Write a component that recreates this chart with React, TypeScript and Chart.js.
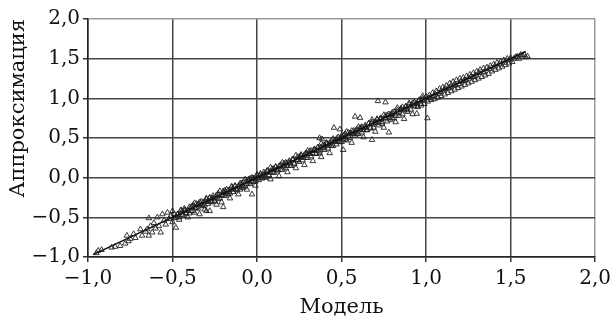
import React, { useEffect, useRef } from "react";
import { Chart, registerables } from "chart.js";

Chart.register(...registerables);

// Axis range / ticks
const axisMin = -1;
const axisMax = 2;
const tickStep = 0.5;

// Fitted line (y = x) end points
const fitLineX = [-0.97, 1.59];
const fitLineY = [-0.97, 1.59];

const segLow: [number, number][] = [
  [-0.95, -0.95], [-0.94, -0.92], [-0.92, -0.91], [-0.86, -0.88], [-0.84, -0.87],
  [-0.81, -0.86], [-0.78, -0.83], [-0.76, -0.8], [-0.77, -0.73], [-0.75, -0.77],
  [-0.73, -0.71], [-0.72, -0.76], [-0.69, -0.65], [-0.68, -0.73], [-0.66, -0.68],
  [-0.65, -0.65], [-0.64, -0.51], [-0.64, -0.73], [-0.63, -0.61], [-0.62, -0.69],
  [-0.61, -0.57], [-0.6, -0.64], [-0.59, -0.5], [-0.58, -0.61], [-0.57, -0.69],
  [-0.56, -0.46], [-0.55, -0.54], [-0.54, -0.59], [-0.53, -0.44], [-0.52, -0.52],
  [-0.51, -0.48], [-0.5, -0.42], [-0.48, -0.63], [-0.49, -0.51], [-0.5, -0.56],
  [-0.47, -0.47], [-0.46, -0.53],
];

const segMid: [number, number][] = [
  [-0.45, -0.41], [-0.44, -0.47], [-0.43, -0.39], [-0.42, -0.45], [-0.41, -0.5],
  [-0.4, -0.37], [-0.39, -0.42], [-0.38, -0.35], [-0.37, -0.44], [-0.36, -0.33],
  [-0.35, -0.39], [-0.34, -0.46], [-0.33, -0.3], [-0.32, -0.36], [-0.31, -0.4],
  [-0.3, -0.27], [-0.3, -0.42], [-0.29, -0.33], [-0.28, -0.25], [-0.28, -0.42],
  [-0.27, -0.31], [-0.26, -0.23], [-0.25, -0.29], [-0.24, -0.34], [-0.23, -0.2],
  [-0.22, -0.26], [-0.21, -0.31], [-0.2, -0.17], [-0.2, -0.37], [-0.19, -0.23],
  [-0.18, -0.15], [-0.17, -0.21], [-0.16, -0.26], [-0.15, -0.12], [-0.14, -0.18],
  [-0.13, -0.1], [-0.12, -0.16], [-0.11, -0.21], [-0.1, -0.07], [-0.09, -0.13],
  [-0.08, -0.05], [-0.07, -0.11], [-0.06, -0.15], [-0.05, -0.02], [-0.04, -0.08],
  [-0.03, -0.21], [-0.03, 0.0], [-0.02, -0.05], [-0.01, -0.1], [0.0, 0.03],
  [0.01, -0.03], [0.02, 0.05], [0.03, -0.01], [0.04, 0.07], [0.05, 0.01],
  [0.06, 0.09], [0.07, 0.03], [0.08, -0.02], [0.09, 0.11], [0.1, 0.06],
  [0.11, 0.13], [0.12, 0.08], [0.13, 0.02], [0.14, 0.16], [0.15, 0.1],
  [0.16, 0.18], [0.17, 0.12], [0.18, 0.07], [0.19, 0.21], [0.2, 0.15],
  [0.21, 0.23], [0.22, 0.17], [0.23, 0.12], [0.24, 0.26], [0.25, 0.2],
  [0.26, 0.28], [0.27, 0.22], [0.28, 0.16], [0.29, 0.31], [0.3, 0.25],
  [0.31, 0.33], [0.32, 0.27], [0.33, 0.21], [0.34, 0.36], [0.35, 0.3],
  [0.36, 0.38], [0.37, 0.31], [0.37, 0.5], [0.385, 0.485], [0.38, 0.26],
  [0.39, 0.41], [0.4, 0.35], [0.41, 0.43], [0.42, 0.37], [0.43, 0.31],
  [0.44, 0.46], [0.45, 0.4],
  [-0.445, -0.43], [-0.425, -0.41], [-0.405, -0.42], [-0.385, -0.37], [-0.365, -0.38],
  [-0.345, -0.33], [-0.325, -0.34], [-0.305, -0.3], [-0.285, -0.3], [-0.265, -0.26],
  [-0.245, -0.25], [-0.225, -0.22], [-0.205, -0.22], [-0.185, -0.18], [-0.165, -0.18],
  [-0.145, -0.14], [-0.125, -0.14], [-0.105, -0.1], [-0.085, -0.1], [-0.065, -0.05],
  [-0.045, -0.06], [-0.025, -0.01], [-0.005, -0.02], [0.015, 0.02], [0.035, 0.03],
  [0.055, 0.06], [0.075, 0.07], [0.095, 0.1], [0.115, 0.1], [0.135, 0.15],
  [0.155, 0.14], [0.175, 0.18], [0.195, 0.18], [0.215, 0.23], [0.235, 0.22],
  [0.255, 0.26], [0.275, 0.27], [0.295, 0.3], [0.315, 0.3], [0.335, 0.35],
  [0.355, 0.34], [0.375, 0.38], [0.395, 0.38], [0.415, 0.43], [0.435, 0.42],
];

const segDense: [number, number][] = [
  [-0.49, -0.46], [-0.48, -0.5], [-0.47, -0.46], [-0.46, -0.5], [-0.45, -0.41],
  [-0.44, -0.45], [-0.43, -0.41], [-0.42, -0.45], [-0.41, -0.41], [-0.4, -0.45],
  [-0.39, -0.37], [-0.38, -0.42], [-0.37, -0.32], [-0.36, -0.38], [-0.35, -0.34],
  [-0.34, -0.31], [-0.33, -0.35], [-0.32, -0.31], [-0.31, -0.35], [-0.3, -0.26],
  [-0.29, -0.3], [-0.28, -0.26], [-0.27, -0.3], [-0.26, -0.26], [-0.25, -0.3],
  [-0.24, -0.22], [-0.23, -0.27], [-0.22, -0.17], [-0.21, -0.23], [-0.2, -0.19],
  [-0.19, -0.16], [-0.18, -0.2], [-0.17, -0.16], [-0.16, -0.2], [-0.15, -0.11],
  [-0.14, -0.15], [-0.13, -0.11], [-0.12, -0.15], [-0.11, -0.11], [-0.1, -0.15],
  [-0.09, -0.07], [-0.08, -0.12], [-0.07, -0.02], [-0.06, -0.08], [-0.05, -0.04],
  [-0.04, -0.01], [-0.03, -0.05], [-0.02, -0.01], [-0.01, -0.05], [0.0, 0.04],
  [0.01, 0.0], [0.02, 0.04], [0.03, 0.0], [0.04, 0.04], [0.05, 0.0],
  [0.06, 0.08], [0.07, 0.03], [0.08, 0.13], [0.09, 0.07], [0.1, 0.11],
  [0.11, 0.14], [0.12, 0.1], [0.13, 0.14], [0.14, 0.1], [0.15, 0.19],
  [0.16, 0.15], [0.17, 0.19], [0.18, 0.15], [0.19, 0.19], [0.2, 0.15],
  [0.21, 0.23], [0.22, 0.18], [0.23, 0.28], [0.24, 0.22], [0.25, 0.26],
  [0.26, 0.29], [0.27, 0.25], [0.28, 0.29], [0.29, 0.25], [0.3, 0.34],
  [0.31, 0.3], [0.32, 0.34], [0.33, 0.3], [0.34, 0.34], [0.35, 0.3],
  [0.36, 0.38], [0.37, 0.33], [0.38, 0.43], [0.39, 0.37], [0.4, 0.41],
  [0.41, 0.44], [0.42, 0.4], [0.43, 0.44], [0.44, 0.4], [0.45, 0.49],
  [0.46, 0.45], [0.47, 0.49], [0.48, 0.45], [0.49, 0.49], [0.5, 0.45],
  [0.51, 0.53], [0.52, 0.48], [0.53, 0.58], [0.54, 0.52], [0.55, 0.56],
  [0.56, 0.59], [0.57, 0.55], [0.58, 0.59], [0.59, 0.55], [0.6, 0.64],
  [0.61, 0.6], [0.62, 0.64], [0.63, 0.6], [0.64, 0.64], [0.65, 0.6],
  [0.66, 0.68], [0.67, 0.63], [0.68, 0.73], [0.69, 0.67], [0.7, 0.71],
  [0.71, 0.74], [0.72, 0.7], [0.73, 0.74], [0.74, 0.7], [0.75, 0.79],
  [0.76, 0.75], [0.77, 0.79], [0.78, 0.75], [0.79, 0.79], [0.8, 0.75],
  [0.81, 0.83], [0.82, 0.78], [0.83, 0.88], [0.84, 0.82], [0.85, 0.86],
  [0.86, 0.89], [0.87, 0.85], [0.88, 0.89], [0.89, 0.85], [0.9, 0.94],
  [0.91, 0.9], [0.92, 0.94], [0.93, 0.9], [0.94, 0.94], [0.95, 0.9],
  [0.96, 0.98], [0.97, 0.93], [0.98, 1.03], [0.99, 0.97],
];

const segUpper: [number, number][] = [
  [0.455, 0.63], [0.49, 0.61], [0.46, 0.47], [0.47, 0.42], [0.48, 0.51],
  [0.49, 0.45], [0.5, 0.53], [0.51, 0.35], [0.51, 0.48], [0.52, 0.55],
  [0.53, 0.47], [0.54, 0.57], [0.55, 0.5], [0.56, 0.44], [0.57, 0.59],
  [0.58, 0.77], [0.58, 0.53], [0.59, 0.61], [0.6, 0.55], [0.61, 0.755],
  [0.61, 0.63], [0.62, 0.57], [0.63, 0.51], [0.64, 0.66], [0.65, 0.6],
  [0.66, 0.68], [0.67, 0.62], [0.68, 0.477], [0.68, 0.7], [0.69, 0.63],
  [0.7, 0.58], [0.71, 0.73], [0.715, 0.966], [0.72, 0.66], [0.73, 0.75],
  [0.74, 0.68], [0.75, 0.63], [0.76, 0.95], [0.76, 0.78], [0.77, 0.71],
  [0.78, 0.57], [0.78, 0.8], [0.79, 0.73], [0.8, 0.82], [0.81, 0.75],
  [0.82, 0.7], [0.83, 0.85], [0.84, 0.78], [0.85, 0.87], [0.86, 0.8],
  [0.87, 0.74], [0.88, 0.9], [0.89, 0.83], [0.9, 0.92], [0.91, 0.86],
  [0.92, 0.8], [0.93, 0.95], [0.945, 0.806], [0.95, 0.89], [0.96, 0.97],
  [0.97, 0.91], [0.98, 1.0], [0.99, 0.93], [1.008, 0.75],
  [0.465, 0.46], [0.495, 0.5], [0.525, 0.51], [0.555, 0.56], [0.585, 0.57],
  [0.615, 0.62], [0.645, 0.63], [0.675, 0.68], [0.705, 0.69], [0.735, 0.74],
  [0.765, 0.75], [0.795, 0.8], [0.825, 0.81], [0.855, 0.86], [0.885, 0.87],
  [0.915, 0.92], [0.945, 0.93], [0.975, 0.98],
];

const segHigh: [number, number][] = [
  [1.0, 1.02], [1.01, 0.96], [1.02, 1.04], [1.03, 0.98], [1.04, 1.07],
  [1.05, 0.99], [1.06, 1.09], [1.07, 1.01], [1.08, 1.12], [1.09, 1.03],
  [1.1, 1.14], [1.11, 1.05], [1.12, 1.16], [1.13, 1.07], [1.14, 1.19],
  [1.15, 1.09], [1.16, 1.21], [1.17, 1.11], [1.18, 1.23], [1.19, 1.13],
  [1.2, 1.25], [1.21, 1.15], [1.22, 1.26], [1.23, 1.17], [1.24, 1.28],
  [1.25, 1.19], [1.26, 1.3], [1.27, 1.21], [1.28, 1.32], [1.29, 1.23],
  [1.3, 1.34], [1.31, 1.25], [1.32, 1.36], [1.33, 1.27], [1.34, 1.38],
  [1.35, 1.29], [1.36, 1.39], [1.37, 1.31], [1.38, 1.41], [1.39, 1.34],
  [1.4, 1.43], [1.41, 1.36], [1.42, 1.45], [1.43, 1.38], [1.44, 1.46],
  [1.45, 1.4], [1.46, 1.48], [1.47, 1.42], [1.48, 1.5], [1.49, 1.44],
  [1.5, 1.51], [1.51, 1.46], [1.53, 1.52], [1.55, 1.5], [1.57, 1.54],
  [1.58, 1.55], [1.59, 1.52], [1.6, 1.53],
  [1.015, 1.0], [1.045, 1.03], [1.075, 1.06], [1.105, 1.1], [1.135, 1.13],
  [1.165, 1.16], [1.195, 1.18], [1.225, 1.22], [1.255, 1.25], [1.285, 1.27],
  [1.025, 1.01], [1.055, 1.05], [1.085, 1.08], [1.115, 1.12], [1.145, 1.14],
  [1.175, 1.17], [1.205, 1.21], [1.235, 1.23], [1.265, 1.27], [1.295, 1.29],
  [1.315, 1.32], [1.345, 1.33], [1.375, 1.37], [1.405, 1.4], [1.435, 1.43],
  [1.465, 1.45], [1.495, 1.48], [1.52, 1.5], [1.54, 1.53], [1.56, 1.55],
];

const FONT = "'DejaVu Serif', 'Liberation Serif', serif";

const fmt = (v: number) => {
  const s = Math.abs(v).toFixed(1).replace(".", ",");
  return v < -1e-9 ? "\u2212" + s : s;
};

export default function App() {
  const ref = useRef<HTMLCanvasElement | null>(null);

  useEffect(() => {
    if (!ref.current) return;
    const pts = [...segLow, ...segMid, ...segDense, ...segUpper, ...segHigh].map(([x, y]) => ({ x, y }));
    const line = fitLineX.map((x, i) => ({ x, y: fitLineY[i] }));
    const edgeColor = (v: number) => (Math.abs(v - axisMax) < 1e-9 ? "#9a9a9a" : "#444");

    const chart = new Chart(ref.current, {
      type: "scatter",
      data: {
        datasets: [
          {
            type: "line",
            data: line,
            borderColor: "#111",
            borderWidth: 1.5,
            pointRadius: 0,
            order: 0,
          } as any,
          {
            data: pts,
            pointStyle: "triangle",
            pointRadius: 3.2,
            borderWidth: 0.9,
            borderColor: "#222",
            backgroundColor: "rgba(255,255,255,0)",
            order: 1,
          },
        ],
      },
      options: {
        responsive: false,
        animation: false,
        events: [],
        layout: { padding: { left: 0, right: 18, top: 19, bottom: 0 } },
        plugins: { legend: { display: false }, tooltip: { enabled: false } },
        scales: {
          x: {
            type: "linear",
            min: axisMin,
            max: axisMax,
            afterFit: (s: any) => {
              s.height = 67;
            },
            ticks: {
              stepSize: tickStep,
              color: "#111",
              font: { family: FONT, size: 20 },
              padding: 5,
              maxRotation: 0,
              callback: (v: any) => fmt(Number(v)),
            },
            grid: {
              color: (c: any) => edgeColor(c.tick ? c.tick.value : 0),
              lineWidth: 1.5,
              tickLength: 5,
              tickColor: "#333",
            },
            border: { color: "#222", width: 1.5 },
            title: {
              display: true,
              text: "Модель",
              color: "#111",
              font: { family: FONT, size: 21 },
              padding: { top: 0, bottom: 4 },
            },
          },
          y: {
            type: "linear",
            min: axisMin,
            max: axisMax,
            afterFit: (s: any) => {
              s.width = 88;
            },
            ticks: {
              stepSize: tickStep,
              color: "#111",
              font: { family: FONT, size: 20 },
              padding: 3,
              callback: (v: any) => fmt(Number(v)),
            },
            grid: {
              color: (c: any) => edgeColor(c.tick ? c.tick.value : 0),
              lineWidth: 1.5,
              tickLength: 5,
              tickColor: "#333",
            },
            border: { color: "#222", width: 1.5 },
            title: {
              display: true,
              text: "Аппроксимация",
              align: "end",
              color: "#111",
              font: { family: FONT, size: 21 },
              padding: 6,
            },
          },
        },
      },
    });
    return () => chart.destroy();
  }, []);

  return (
    <div style={{ position: "absolute", left: 0, top: 0, width: 616, height: 324, background: "#fff" }}>
      <canvas ref={ref} width={616} height={324} style={{ display: "block" }} />
    </div>
  );
}
